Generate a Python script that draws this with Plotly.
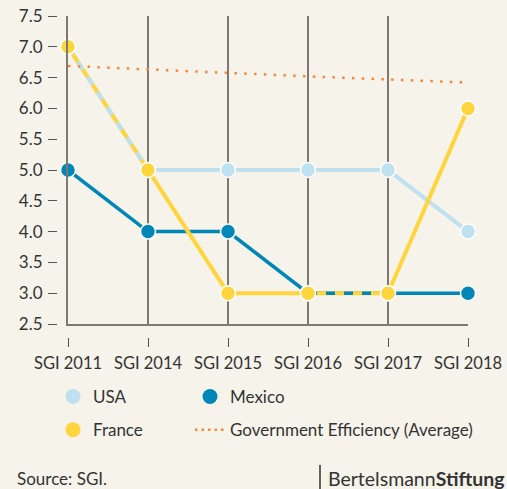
import plotly.graph_objects as go

categories = ["SGI 2011", "SGI 2014", "SGI 2015", "SGI 2016", "SGI 2017", "SGI 2018"]
usa = [7, 5, 5, 5, 5, 4]
mexico = [5, 4, 4, 3, 3, 3]
france = [7, 5, 3, 3, 3, 6]
gov_eff = [6.69, 6.63, 6.57, 6.52, 6.47, 6.42]
y_ticks = [2.5, 3.0, 3.5, 4.0, 4.5, 5.0, 5.5, 6.0, 6.5, 7.0, 7.5]

C_USA = "#bfe0ef"
C_MEX = "#0087b8"
C_FRA = "#ffd53e"
C_GOV = "#f5883a"
BG = "#f6f3eb"
GRID = "#7d7870"
TXT = "#333333"
FONT = "Lato"

W, H = 507, 489
def px_x(p):
    return p / W
def px_y(p):
    return 1 - p / H

def overlap(a, b):
    """Segments where series a and b coincide -> x/y lists of a (with gaps)."""
    xs, ys = [], []
    for i in range(len(a) - 1):
        if a[i] == b[i] and a[i + 1] == b[i + 1]:
            xs += [categories[i], categories[i + 1], None]
            ys += [a[i], a[i + 1], None]
    return xs, ys

fig = go.Figure()

# dummy traces so the frame axes (left / bottom lines) get drawn
fig.add_trace(go.Scatter(x=[None], y=[None], xaxis="x2", yaxis="y", showlegend=False, hoverinfo="skip"))
fig.add_trace(go.Scatter(x=[None], y=[None], xaxis="x", yaxis="y2", showlegend=False, hoverinfo="skip"))

# solid lines
for vals, col, w in [(usa, C_USA, 4), (mexico, C_MEX, 3.5), (france, C_FRA, 4)]:
    fig.add_trace(go.Scatter(x=categories, y=vals, mode="lines",
                             line=dict(color=col, width=w), showlegend=False,
                             hoverinfo="skip", cliponaxis=False))

# dashed overlays where lines coincide with France
for vals, col, w in [(usa, C_USA, 4), (mexico, C_MEX, 3.5)]:
    xs, ys = overlap(vals, france)
    if xs:
        fig.add_trace(go.Scatter(x=xs, y=ys, mode="lines",
                                 line=dict(color=col, width=w, dash="9px,9px"),
                                 showlegend=False, hoverinfo="skip", cliponaxis=False))

# government efficiency dotted line
fig.add_trace(go.Scatter(x=categories, y=gov_eff, mode="lines",
                         line=dict(color=C_GOV, width=2.5, dash="2.5px,7.3px"),
                         showlegend=False, cliponaxis=False))

# markers
for vals, col in [(usa, C_USA), (mexico, C_MEX), (france, C_FRA)]:
    fig.add_trace(go.Scatter(x=categories, y=vals, mode="markers",
                             marker=dict(color=col, size=15, line=dict(color="white", width=1.5)),
                             showlegend=False, cliponaxis=False))

# legend entries
def leg(name, col, legend, group, dotted=False):
    if dotted:
        fig.add_trace(go.Scatter(x=[None], y=[None], mode="lines", name=name,
                                 line=dict(color=C_GOV, width=2.5, dash="2.5px,4px"),
                                 legend=legend, legendgroup=group))
    else:
        fig.add_trace(go.Scatter(x=[None], y=[None], mode="markers", name=name,
                                 marker=dict(color=col, size=15),
                                 legend=legend, legendgroup=group))

leg("USA", C_USA, "legend", "a")
leg("France", C_FRA, "legend", "b")
leg("Mexico", C_MEX, "legend2", "c")
leg("Government Efficiency (Average)", C_GOV, "legend2", "d", dotted=True)

x_dom = [px_x(68), px_x(468)]
y_dom = [px_y(324), px_y(16)]

legend_common = dict(bgcolor="rgba(0,0,0,0)", font=dict(family=FONT, size=17, color=TXT),
                     traceorder="grouped", tracegroupgap=8, orientation="v",
                     xanchor="left", yanchor="top", itemclick=False, itemdoubleclick=False)

fig.update_layout(
    width=W, height=H,
    margin=dict(l=0, r=0, t=0, b=0, autoexpand=False),
    paper_bgcolor=BG, plot_bgcolor=BG,
    font=dict(family=FONT, size=16, color=TXT),
    showlegend=True,
    legend=dict(x=px_x(53), y=px_y(379), **legend_common),
    legend2=dict(x=px_x(190), y=px_y(379), **legend_common),
    xaxis=dict(domain=x_dom, type="category", categoryorder="array", categoryarray=categories,
               range=[0, 5], anchor="free", position=px_y(337), automargin=False,
               showgrid=True, gridcolor=GRID, gridwidth=1.8,
               ticks="outside", ticklen=9, tickwidth=1.2, tickcolor="#555",
               showline=False, zeroline=False, ticklabelstandoff=2,
               tickfont=dict(family=FONT, size=16.5, color=TXT)),
    yaxis=dict(domain=y_dom, range=[2.5, 7.5], tickvals=y_ticks,
               ticktext=[f"{v:.1f}" for v in y_ticks],
               anchor="free", position=px_x(57), automargin=False,
               showgrid=False, zeroline=False, showline=False,
               ticks="outside", ticklen=9, tickwidth=1.2, tickcolor="#555",
               ticklabelstandoff=2,
               tickfont=dict(family=FONT, size=17, color=TXT)),
    xaxis2=dict(domain=x_dom, overlaying="x", anchor="y", range=[0, 5], automargin=False,
                showline=True, linecolor=GRID, linewidth=2, showgrid=False,
                showticklabels=False, ticks="", zeroline=False),
    yaxis2=dict(domain=y_dom, overlaying="y", anchor="x", range=[2.5, 7.5], automargin=False,
                showline=True, linecolor=GRID, linewidth=2, showgrid=False,
                showticklabels=False, ticks="", zeroline=False),
    annotations=[
        dict(text="Source: SGI.", x=px_x(15), y=px_y(478), xref="paper", yref="paper",
             xanchor="left", yanchor="middle", showarrow=False,
             font=dict(family=FONT, size=17, color=TXT)),
        dict(text="Bertelsmann<b>Stiftung</b>", x=px_x(507), y=px_y(478), xref="paper", yref="paper",
             xanchor="right", yanchor="middle", showarrow=False,
             font=dict(family=FONT, size=19.5, color=TXT)),
    ],
    shapes=[
        dict(type="line", xref="paper", yref="paper", x0=px_x(320), x1=px_x(320),
             y0=px_y(465), y1=px_y(489), line=dict(color=TXT, width=1.5)),
    ],
)

fig.write_html("out.html", config={"displayModeBar": False},
               post_script="document.body.style.margin='0';document.body.style.overflow='hidden';")
